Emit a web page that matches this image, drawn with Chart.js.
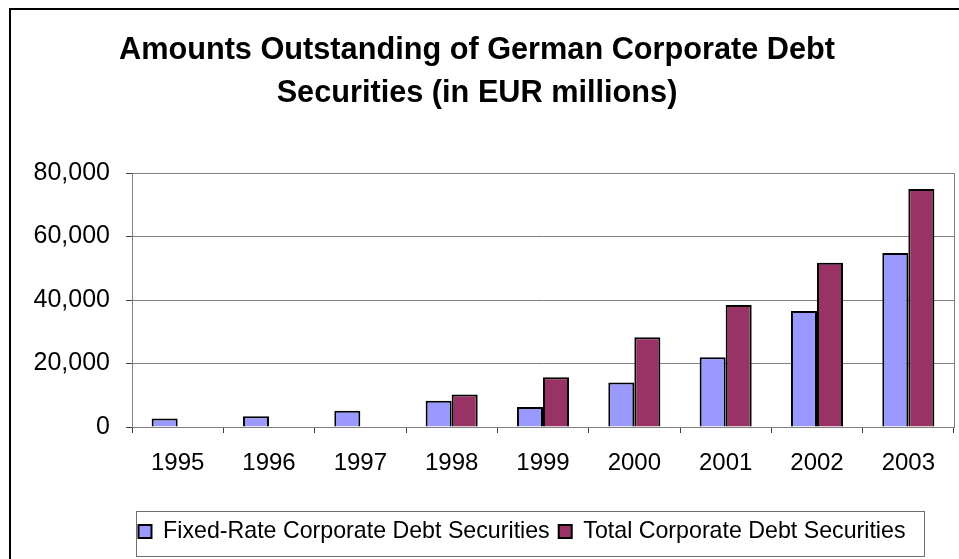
<!DOCTYPE html>
<html>
<head>
<meta charset="utf-8">
<script src="https://cdn.jsdelivr.net/npm/chart.js@4/dist/chart.umd.min.js"></script>
<style>
  html, body { margin: 0; padding: 0; background: #fff; }
  canvas { display: block; }
</style>
</head>
<body>
<canvas id="debtChart" width="959" height="559"></canvas>
<script>
const years = ['1995', '1996', '1997', '1998', '1999', '2000', '2001', '2002', '2003'];
const fixedRate = [2700, 3400, 5100, 8300, 6300, 14000, 22000, 36500, 54800];
const totalDebt = [null, null, null, 10200, 15700, 28300, 38400, 51700, 75000];
const yTicks = [0, 20000, 40000, 60000, 80000];
const seriesNames = ['Fixed-Rate Corporate Debt Securities', 'Total Corporate Debt Securities'];

const FONT = '"Liberation Sans", Arial, sans-serif';

// legend : hauteur fixe, position décalée, cadre gris
const legendBox = {
    id: 'legendBox',
    beforeInit(chart) {
        const fit = chart.legend.fit;
        chart.legend.fit = function () {
            fit.call(this);
            this.height = 46;
        };
    },
    afterLayout(chart) {
        const lg = chart.legend;
        lg.left = 110;
        lg.right = 934;
        lg.width = lg.right - lg.left;
    },
    afterDraw(chart) {
        const { ctx, legend } = chart;
        ctx.save();
        ctx.strokeStyle = '#707070';
        ctx.lineWidth = 1;
        ctx.strokeRect(136.5, legend.top + 0.5, 788, legend.height - 1);
        ctx.restore();
    }
};

// cadre de la zone de tracé et bordure extérieure
const frames = {
    id: 'frames',
    beforeDatasetsDraw(chart) {
        const { ctx, chartArea: a } = chart;
        ctx.save();
        ctx.strokeStyle = '#808080';
        ctx.lineWidth = 1;
        ctx.strokeRect(Math.round(a.left) + 0.5, Math.round(a.top) + 0.5,
            Math.round(a.right - a.left), Math.round(a.bottom - a.top));
        ctx.restore();
    },
    afterDraw(chart) {
        const ctx = chart.ctx;
        ctx.save();
        ctx.strokeStyle = '#000';
        ctx.lineWidth = 2;
        ctx.beginPath();
        ctx.moveTo(10, 570);
        ctx.lineTo(10, 9);
        ctx.lineTo(970, 9);
        ctx.stroke();
        ctx.restore();
    }
};

new Chart(document.getElementById('debtChart'), {
    type: 'bar',
    data: {
        labels: years,
        datasets: [{
            label: seriesNames[0],
            data: fixedRate,
            backgroundColor: '#9999FF',
            borderColor: '#000',
            borderWidth: 2
        }, {
            label: seriesNames[1],
            data: totalDebt,
            backgroundColor: '#993366',
            borderColor: '#000',
            borderWidth: 2
        }]
    },
    options: {
        responsive: false,
        animation: false,
        categoryPercentage: 0.57,
        barPercentage: 1,
        layout: { padding: { left: 0, right: 5, top: 0, bottom: 2 } },
        color: '#000',
        plugins: {
            title: {
                display: true,
                text: ['Amounts Outstanding of German Corporate Debt', 'Securities (in EUR millions)'],
                color: '#000',
                font: { family: FONT, size: 30.7, weight: 'bold', lineHeight: 43 / 30.7 },
                padding: { top: 29, bottom: 58 }
            },
            legend: {
                position: 'bottom',
                labels: {
                    color: '#000',
                    font: { family: FONT, size: 23.2 },
                    boxWidth: 13,
                    boxHeight: 13,
                    padding: 9
                }
            },
            tooltip: { enabled: false }
        },
        scales: {
            x: {
                offset: true,
                grid: {
                    offset: true,
                    drawOnChartArea: false,
                    tickLength: 6,
                    tickColor: '#404040'
                },
                border: { color: '#303030', width: 1 },
                ticks: {
                    color: '#000',
                    font: { family: FONT, size: 24 },
                    padding: 16,
                    maxRotation: 0
                },
                afterFit(scale) { scale.height = 84; }
            },
            y: {
                min: 0,
                max: 80000,
                afterBuildTicks(scale) {
                    scale.ticks = yTicks.map(v => ({ value: v }));
                },
                grid: {
                    color: '#808080',
                    tickLength: 6,
                    tickColor: '#404040'
                },
                border: { color: '#303030', width: 1 },
                ticks: {
                    color: '#000',
                    font: { family: FONT, size: 25 },
                    padding: 16,
                    callback: v => v.toLocaleString('en-US')
                },
                afterFit(scale) { scale.width = 132; }
            }
        }
    },
    plugins: [legendBox, frames]
});
</script>
</body>
</html>
